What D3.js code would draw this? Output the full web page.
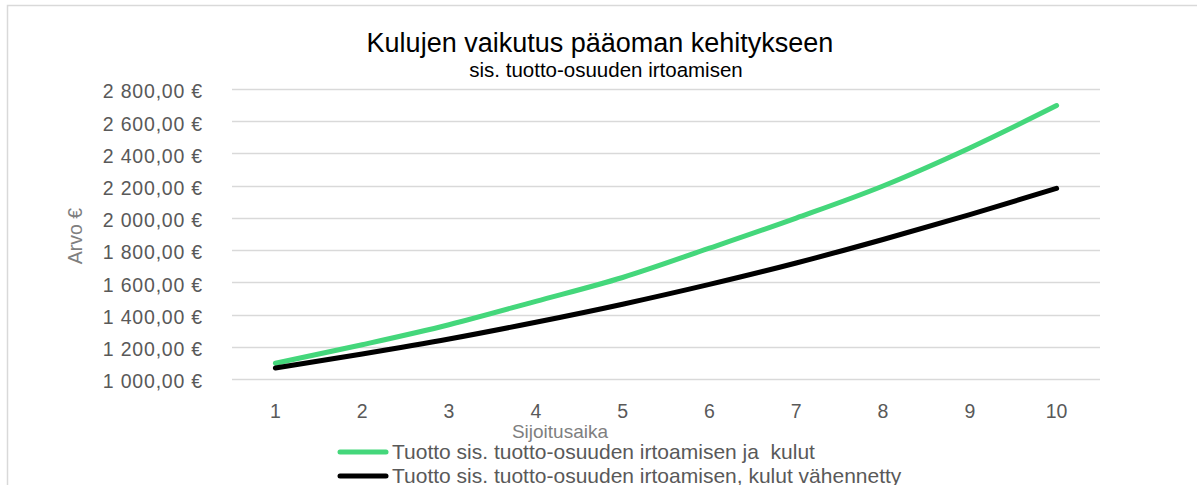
<!DOCTYPE html>
<html>
<head>
<meta charset="utf-8">
<script src="https://cdn.jsdelivr.net/npm/d3@7"></script>
<style>
  body { margin: 0; background: #fff; }
  svg { display: block; }
</style>
</head>
<body>
<script>
// values
var years = [1, 2, 3, 4, 5, 6, 7, 8, 9, 10];
var withCosts = [1098, 1213, 1337, 1482, 1630, 1812, 1999, 2198, 2434, 2697];
var costsDeducted = [1068, 1155, 1248, 1352, 1464, 1587, 1720, 1866, 2020, 2183];
var yTicks = [1000, 1200, 1400, 1600, 1800, 2000, 2200, 2400, 2600, 2800];
var seriesNames = ["Tuotto sis. tuotto-osuuden irtoamisen ja  kulut",
                   "Tuotto sis. tuotto-osuuden irtoamisen, kulut vähennetty"];
var seriesColors = ["#44d77b", "#000000"];

var W = 1197, H = 485;
var margin = {left: 232, right: 97, top: 89, bottom: 106};
var font = "'Liberation Sans', Arial, sans-serif";

var svg = d3.select("body").append("svg")
    .attr("width", W)
    .attr("height", H);

// chart frame
svg.append("rect")
    .attr("x", 7.5).attr("y", 5.5)
    .attr("width", W + 10).attr("height", H + 10)
    .attr("fill", "#fff")
    .attr("stroke", "#d9d9d9")
    .attr("stroke-width", 1.5);

var x = d3.scaleBand()
    .domain(years)
    .range([margin.left, W - margin.right]);

var y = d3.scaleLinear()
    .domain([1000, 2800])
    .range([H - margin.bottom, margin.top]);

// gridlines
svg.append("g")
    .selectAll("line")
    .data(yTicks)
    .enter().append("line")
    .attr("x1", margin.left)
    .attr("x2", W - margin.right)
    .attr("y1", function(d) { return Math.round(y(d)) + 0.5; })
    .attr("y2", function(d) { return Math.round(y(d)) + 0.5; })
    .attr("stroke", "#d9d9d9")
    .attr("stroke-width", 1.5);

var fmt = function(d) {
    var s = d3.format(",.2f")(d);
    return s.replace(/,/g, " ").replace(".", ",") + " €";
};

// y axis
var yAxis = svg.append("g")
    .attr("transform", "translate(" + margin.left + ",0)")
    .call(d3.axisLeft(y).tickValues(yTicks).tickSize(0).tickPadding(29).tickFormat(fmt));
yAxis.select(".domain").remove();
yAxis.selectAll("text")
    .attr("fill", "#595959")
    .attr("dy", "0.45em")
    .style("font-family", font)
    .style("font-size", "19.5px")
    .style("letter-spacing", "0.8px");

// x axis
var xAxis = svg.append("g")
    .attr("transform", "translate(0," + (H - margin.bottom) + ")")
    .call(d3.axisBottom(x).tickSize(0).tickPadding(25));
xAxis.select(".domain").remove();
xAxis.selectAll("text")
    .attr("fill", "#595959")
    .style("font-family", font)
    .style("font-size", "19.5px");

// lines
var line = d3.line()
    .x(function(d, i) { return x(years[i]) + x.bandwidth() / 2; })
    .y(function(d) { return y(d); })
    .curve(d3.curveMonotoneX);

[withCosts, costsDeducted].forEach(function(vals, k) {
    svg.append("path")
        .datum(vals)
        .attr("d", line)
        .attr("fill", "none")
        .attr("stroke", seriesColors[k])
        .attr("stroke-width", 5)
        .attr("stroke-linecap", "round")
        .attr("stroke-linejoin", "round");
});

// titles
svg.append("text")
    .attr("x", 600).attr("y", 52)
    .attr("text-anchor", "middle")
    .attr("fill", "#000")
    .style("font-family", font)
    .style("font-size", "27px")
    .text("Kulujen vaikutus pääoman kehitykseen");

svg.append("text")
    .attr("x", 606).attr("y", 77)
    .attr("text-anchor", "middle")
    .attr("fill", "#000")
    .style("font-family", font)
    .style("font-size", "20.5px")
    .text("sis. tuotto-osuuden irtoamisen");

// axis titles
svg.append("text")
    .attr("x", 560).attr("y", 438)
    .attr("text-anchor", "middle")
    .attr("fill", "#7f7f7f")
    .style("font-family", font)
    .style("font-size", "19px")
    .text("Sijoitusaika");

svg.append("text")
    .attr("transform", "translate(82,236) rotate(-90)")
    .attr("text-anchor", "middle")
    .attr("fill", "#7f7f7f")
    .style("font-family", font)
    .style("font-size", "19.5px")
    .text("Arvo €");

// legend
var legend = svg.append("g")
    .selectAll("g")
    .data(seriesNames)
    .enter().append("g")
    .attr("transform", function(d, i) { return "translate(338," + (452 + i * 24) + ")"; });

legend.append("line")
    .attr("x1", 2).attr("x2", 48)
    .attr("stroke", function(d, i) { return seriesColors[i]; })
    .attr("stroke-width", 5)
    .attr("stroke-linecap", "round");

legend.append("text")
    .attr("x", 54).attr("y", 7)
    .attr("fill", "#595959")
    .style("font-family", font)
    .style("font-size", "21px")
    .style("white-space", "pre")
    .text(function(d) { return d; });
</script>
</body>
</html>
